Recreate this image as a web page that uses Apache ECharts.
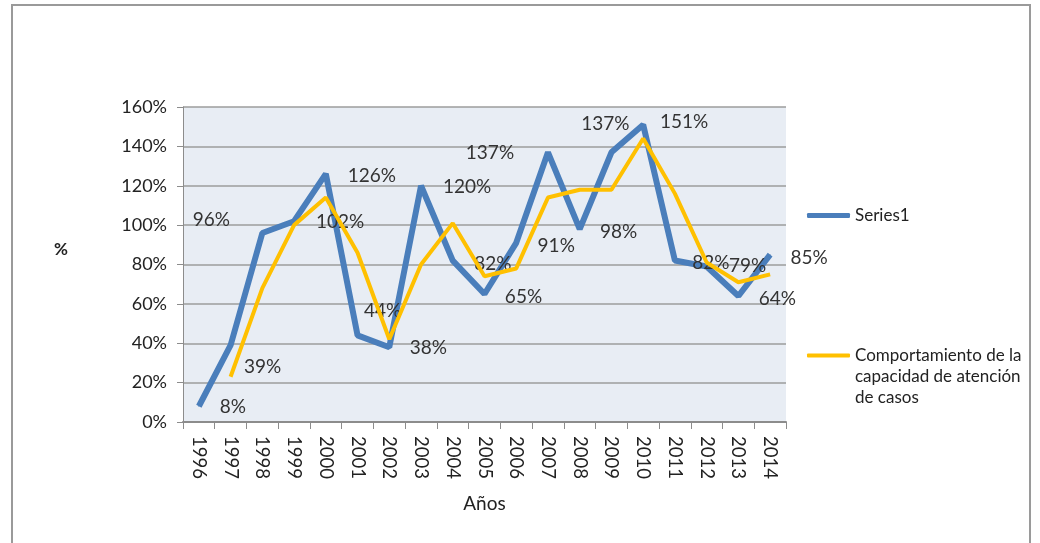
<!DOCTYPE html>
<html><head><meta charset="utf-8">
<script src="https://cdn.jsdelivr.net/npm/echarts@6/dist/echarts.min.js"></script>
<style>html,body{margin:0;padding:0;background:#fff}#c{width:1040px;height:543px}</style>
</head><body><div id="c"></div>
<script>
var years = ['1996','1997','1998','1999','2000','2001','2002','2003','2004','2005','2006','2007','2008','2009','2010','2011','2012','2013','2014'];
var series1 = [8,39,96,102,126,44,38,120,82,65,91,137,98,137,151,82,79,64,85];
var capacidad = [null,23,68,100,114,86,42,80,101,74,78,114,118,118,144,116,81,71,75];
var yTicks = [0,20,40,60,80,100,120,140,160];
var name1 = 'Series1';
var name2 = 'Comportamiento de la capacidad de atención de casos';
// label placement offsets (px) for Series1 data labels, as in the original
var labelOffsets = [[34,1],[32,22],[-51,-13],[46,1],[46,2],[25,-25],[39,1],[46,1],[40,3],[39,3],[40,3],[-58,1],[39,3],[-6,-28],[41,-3],[36,2],[41,-1],[39,3],[39,3]];

var FONT = 'Lato';
var chart = echarts.init(document.getElementById('c'), null, {renderer:'canvas'});
chart.setOption({
  backgroundColor:'#fff',
  textStyle:{fontFamily:FONT},
  graphic:[{type:'rect', shape:{x:12,y:5,width:1018,height:600}, style:{fill:'none', stroke:'#9a9a9a', lineWidth:2}, silent:true}],
  grid:{left:183, top:107, width:603, height:315, show:true, backgroundColor:'#e8edf4', borderWidth:0},
  legend:[
    {data:[name1], orient:'vertical', left:802, top:200, icon:'roundRect', itemWidth:43, itemHeight:5,
     textStyle:{fontFamily:FONT, fontSize:17, color:'#222', lineHeight:21}},
    {data:[name2], orient:'vertical', left:802, top:298, icon:'roundRect', itemWidth:43, itemHeight:4,
     formatter:function(){return '\n\nComportamiento de la\ncapacidad de atención\nde casos';},
     textStyle:{fontFamily:FONT, fontSize:17, color:'#222', lineHeight:21}}
  ],
  xAxis:{type:'category', data:years, boundaryGap:true,
    name:'Años', nameLocation:'middle', nameGap:72, nameTextStyle:{fontFamily:FONT, fontSize:19, color:'#222'},
    axisLine:{lineStyle:{color:'#8c8c8c', width:2}},
    axisTick:{show:true, length:7, lineStyle:{color:'#8c8c8c'}},
    axisLabel:{rotate:-90, margin:14, fontFamily:FONT, fontSize:18.5, color:'#222'}},
  yAxis:{type:'value', min:0, max:160, interval:20,
    name:'%\n', nameLocation:'middle', nameRotate:0, nameGap:115,
    nameTextStyle:{fontFamily:FONT, fontSize:17, fontWeight:'bold', color:'#222', lineHeight:29},
    axisLine:{show:true, lineStyle:{color:'#8c8c8c', width:1}},
    axisTick:{show:true, length:6, lineStyle:{color:'#8c8c8c'}},
    splitLine:{lineStyle:{color:'#9c9c9c', width:1.5}},
    axisLabel:{margin:16, fontFamily:FONT, fontSize:18, color:'#222', formatter:function(v){return v+'%';}}},
  series:[
    {name:name1, type:'line', data:series1.map(function(v,i){
        return {value:v, label:{offset:labelOffsets[i]}};
      }),
     symbol:'circle', symbolSize:1, showSymbol:true,
     lineStyle:{color:'#4a7ebb', width:6}, itemStyle:{color:'#4a7ebb'},
     label:{show:true, position:'inside', formatter:function(p){return p.value+'%';}, fontFamily:FONT, fontSize:19, color:'#333'},
     z:2},
    {name:name2, type:'line', data:capacidad, symbol:'none',
     lineStyle:{color:'#ffc000', width:4}, itemStyle:{color:'#ffc000'}, z:3}
  ],
  animation:false
});
</script></body></html>
